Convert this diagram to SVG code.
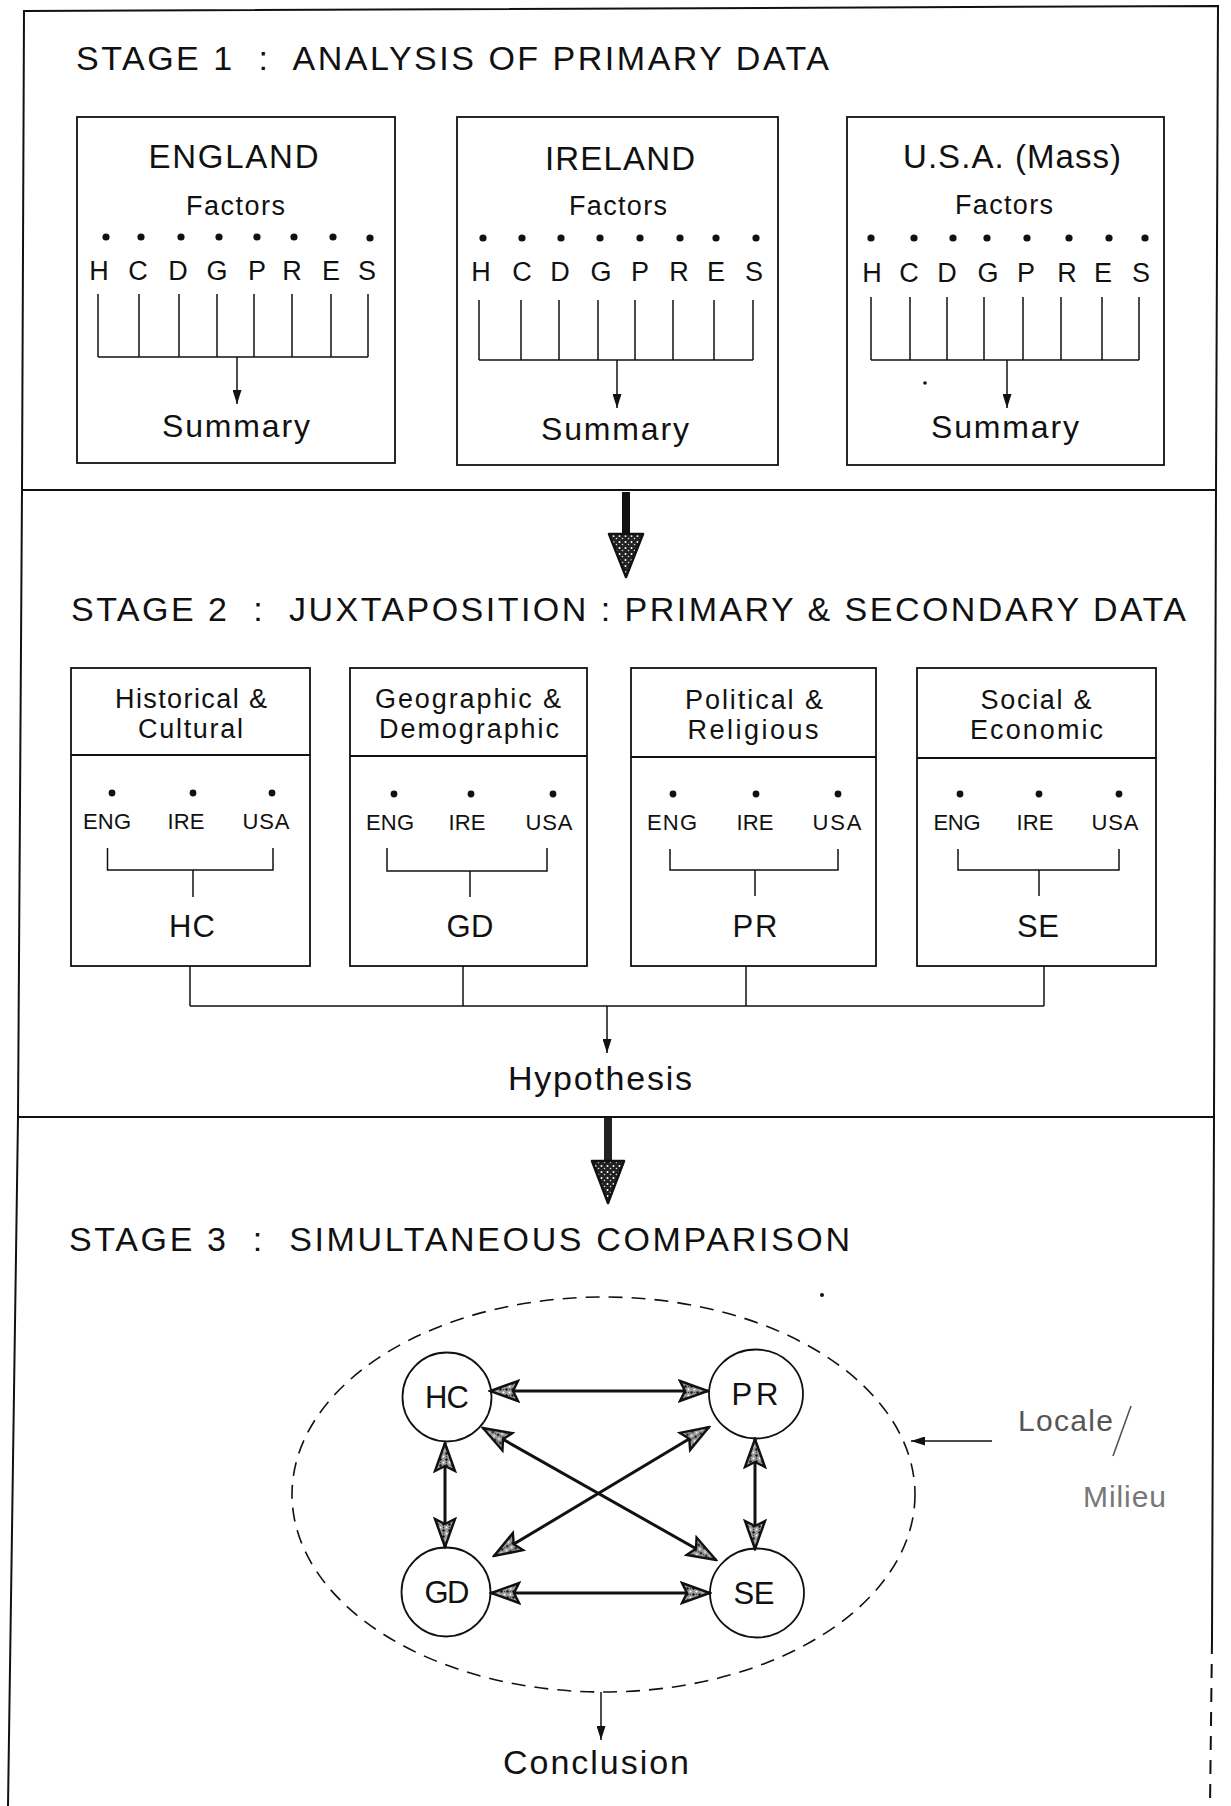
<svg xmlns="http://www.w3.org/2000/svg" width="1231" height="1806" viewBox="0 0 1231 1806">
<style>
text{font-family:"Liberation Sans",Arial,Helvetica,sans-serif;fill:#111;}
.ttl{font-size:34px;}
.cty{font-size:33px;text-anchor:middle;}
.fac{font-size:27px;text-anchor:middle;}
.let{font-size:27px;text-anchor:middle;}
.sum{font-size:32px;text-anchor:middle;}
.hdr{font-size:27px;text-anchor:middle;}
.sm{font-size:22px;text-anchor:middle;}
.code{font-size:31px;text-anchor:middle;}
.big{font-size:34px;text-anchor:middle;}
.node{font-size:31px;text-anchor:middle;}
.frame{fill:none;stroke:#111;stroke-width:2;}
.box{fill:none;stroke:#111;stroke-width:1.8;}
.ln{fill:none;stroke:#111;stroke-width:1.5;}
.thick{fill:none;stroke:#111;stroke-width:3;}
.dot{fill:#111;}
</style>
<defs>
<pattern id="stipL" width="6" height="6" patternUnits="userSpaceOnUse">
<rect width="6" height="6" fill="#9a9a9a"/>
<circle cx="1.5" cy="1.5" r="1.2" fill="#111"/>
<circle cx="4.5" cy="4.5" r="1" fill="#fff"/>
<circle cx="4.5" cy="1.5" r="0.7" fill="#333"/>
</pattern>
<pattern id="stipD" width="6" height="6" patternUnits="userSpaceOnUse">
<rect width="6" height="6" fill="#222"/>
<circle cx="1.5" cy="2" r="1" fill="#fff"/>
<circle cx="4.5" cy="4.5" r="0.8" fill="#ddd"/>
</pattern>
<marker id="ah" viewBox="0 0 32 24" refX="30" refY="12" markerWidth="32" markerHeight="24" markerUnits="userSpaceOnUse" orient="auto-start-reverse">
<path d="M2,2 L30,12 L2,22 L7,12 Z" fill="url(#stipL)" stroke="#111" stroke-width="2.4"/>
</marker>
<marker id="sa" viewBox="0 0 14 10" refX="14" refY="5" markerWidth="14" markerHeight="9" markerUnits="userSpaceOnUse" orient="auto" preserveAspectRatio="none">
<path d="M0,0 L14,5 L0,10 Z" fill="#111"/>
</marker>
</defs>
<rect width="1231" height="1806" fill="#fff"/>

<g id="frame">
<polyline class="frame" points="8,1806 18,1117 22,490 24,11 1218,6 1216,490 1214,1117 1212,1640"/>
<line class="frame" x1="1212" y1="1640" x2="1210" y2="1806" stroke-dasharray="14 10"/>
<line class="frame" x1="22" y1="490" x2="1216" y2="490"/>
<line class="frame" x1="18" y1="1117" x2="1214" y2="1117"/>
</g>

<g id="titles">
<text class="ttl" x="76" y="70" textLength="753" xml:space="preserve">STAGE 1  :  ANALYSIS OF PRIMARY DATA</text>
<text class="ttl" x="71" y="621" textLength="1115" xml:space="preserve">STAGE 2  :  JUXTAPOSITION : PRIMARY &amp; SECONDARY DATA</text>
<text class="ttl" x="69" y="1251" textLength="781" xml:space="preserve">STAGE 3  :  SIMULTANEOUS COMPARISON</text>
</g>

<!-- Stage 1 -->
<g id="england">
<rect class="box" x="77" y="117" width="318" height="346"/>
<text class="cty" x="233.5" y="168" textLength="170">ENGLAND</text>
<text class="fac" x="235.5" y="215" textLength="99">Factors</text>
<g class="dot"><circle cx="106" cy="237" r="3.6"/><circle cx="141" cy="237" r="3.6"/><circle cx="181" cy="237" r="3.6"/><circle cx="219" cy="237" r="3.6"/><circle cx="257" cy="237" r="3.6"/><circle cx="294" cy="237" r="3.6"/><circle cx="333" cy="237" r="3.6"/><circle cx="370" cy="238" r="3.6"/></g>
<text class="let" x="99" y="280">H</text><text class="let" x="138" y="280">C</text><text class="let" x="178" y="280">D</text><text class="let" x="217" y="280">G</text><text class="let" x="257" y="280">P</text><text class="let" x="292" y="280">R</text><text class="let" x="331" y="280">E</text><text class="let" x="367" y="280">S</text>
<path class="ln" d="M98,294V357M139,294V357M179,294V357M217,294V357M254,294V357M292,294V357M331,294V357M368,294V357M98,357H368"/>
<line class="ln" x1="237" y1="357" x2="237" y2="404" marker-end="url(#sa)"/>
<text class="sum" x="236" y="437" textLength="148">Summary</text>
</g>

<g id="ireland">
<rect class="box" x="457" y="117" width="321" height="348"/>
<text class="cty" x="620" y="170" textLength="150">IRELAND</text>
<text class="fac" x="618" y="215" textLength="98">Factors</text>
<g class="dot"><circle cx="483" cy="238" r="3.6"/><circle cx="522" cy="238" r="3.6"/><circle cx="561" cy="238" r="3.6"/><circle cx="600" cy="238" r="3.6"/><circle cx="640" cy="238" r="3.6"/><circle cx="680" cy="238" r="3.6"/><circle cx="716" cy="238" r="3.6"/><circle cx="756" cy="238" r="3.6"/></g>
<text class="let" x="481" y="281">H</text><text class="let" x="522" y="281">C</text><text class="let" x="560" y="281">D</text><text class="let" x="601" y="281">G</text><text class="let" x="640" y="281">P</text><text class="let" x="679" y="281">R</text><text class="let" x="716" y="281">E</text><text class="let" x="754" y="281">S</text>
<path class="ln" d="M479,300V360M521,300V360M559,300V360M598,300V360M635,300V360M673,300V360M714,300V360M753,300V360M479,360H753"/>
<line class="ln" x1="617" y1="360" x2="617" y2="408" marker-end="url(#sa)"/>
<text class="sum" x="615" y="440" textLength="148">Summary</text>
</g>

<g id="usa">
<rect class="box" x="847" y="117" width="317" height="348"/>
<text class="cty" x="1012" y="168" textLength="218">U.S.A. (Mass)</text>
<text class="fac" x="1004" y="214" textLength="98">Factors</text>
<g class="dot"><circle cx="871" cy="238" r="3.6"/><circle cx="914" cy="238" r="3.6"/><circle cx="953" cy="238" r="3.6"/><circle cx="987" cy="238" r="3.6"/><circle cx="1027" cy="238" r="3.6"/><circle cx="1069" cy="238" r="3.6"/><circle cx="1109" cy="238" r="3.6"/><circle cx="1145" cy="238" r="3.6"/></g>
<text class="let" x="872" y="282">H</text><text class="let" x="909" y="282">C</text><text class="let" x="947" y="282">D</text><text class="let" x="988" y="282">G</text><text class="let" x="1026" y="282">P</text><text class="let" x="1067" y="282">R</text><text class="let" x="1103" y="282">E</text><text class="let" x="1141" y="282">S</text>
<path class="ln" d="M871,297V360M910,297V360M947,297V360M984,297V360M1023,297V360M1061,297V360M1102,297V360M1139,297V360M871,360H1139"/>
<line class="ln" x1="1007" y1="360" x2="1007" y2="408" marker-end="url(#sa)"/>
<text class="sum" x="1005" y="438" textLength="148">Summary</text>
<circle class="dot" cx="925" cy="383" r="1.8"/>
</g>

<!-- Stage 2 -->
<g id="hc-box">
<rect class="box" x="71" y="668" width="239" height="298"/>
<line class="box" x1="71" y1="755" x2="310" y2="755"/>
<text class="hdr" x="191" y="708" textLength="152">Historical &amp;</text>
<text class="hdr" x="190.5" y="738" textLength="105">Cultural</text>
<g class="dot"><circle cx="112" cy="793" r="3.4"/><circle cx="193" cy="793" r="3.4"/><circle cx="272" cy="793" r="3.4"/></g>
<text class="sm" x="107" y="829" textLength="48">ENG</text><text class="sm" x="186" y="829" textLength="37">IRE</text><text class="sm" x="266" y="829" textLength="47">USA</text>
<path class="ln" d="M107.5,848V870H273V848M193,870V897"/>
<text class="code" x="192" y="937" textLength="46">HC</text>
</g>

<g id="gd-box">
<rect class="box" x="350" y="668" width="237" height="298"/>
<line class="box" x1="350" y1="756" x2="587" y2="756"/>
<text class="hdr" x="468" y="708" textLength="186">Geographic &amp;</text>
<text class="hdr" x="469" y="738" textLength="180">Demographic</text>
<g class="dot"><circle cx="394" cy="794" r="3.4"/><circle cx="471" cy="794" r="3.4"/><circle cx="553" cy="794" r="3.4"/></g>
<text class="sm" x="390" y="830" textLength="48">ENG</text><text class="sm" x="467" y="830" textLength="37">IRE</text><text class="sm" x="549" y="830" textLength="47">USA</text>
<path class="ln" d="M387,848V871H547V848M470,871V897"/>
<text class="code" x="470" y="937" textLength="47">GD</text>
</g>

<g id="pr-box">
<rect class="box" x="631" y="668" width="245" height="298"/>
<line class="box" x1="631" y1="757" x2="876" y2="757"/>
<text class="hdr" x="754" y="709" textLength="138">Political &amp;</text>
<text class="hdr" x="753" y="739" textLength="131">Religious</text>
<g class="dot"><circle cx="673" cy="794" r="3.4"/><circle cx="756" cy="794" r="3.4"/><circle cx="838" cy="794" r="3.4"/></g>
<text class="sm" x="672" y="830" textLength="50">ENG</text><text class="sm" x="755" y="830" textLength="37">IRE</text><text class="sm" x="837" y="830" textLength="49">USA</text>
<path class="ln" d="M670,849V870H838V849M755,870V896"/>
<text class="code" x="755" y="937" textLength="45">PR</text>
</g>

<g id="se-box">
<rect class="box" x="917" y="668" width="239" height="298"/>
<line class="box" x1="917" y1="758" x2="1156" y2="758"/>
<text class="hdr" x="1036" y="709" textLength="111">Social &amp;</text>
<text class="hdr" x="1036.5" y="739" textLength="133">Economic</text>
<g class="dot"><circle cx="960" cy="794" r="3.4"/><circle cx="1039" cy="794" r="3.4"/><circle cx="1119" cy="794" r="3.4"/></g>
<text class="sm" x="957" y="830" textLength="47">ENG</text><text class="sm" x="1035" y="830" textLength="37">IRE</text><text class="sm" x="1115" y="830" textLength="47">USA</text>
<path class="ln" d="M958,849V870H1119V849M1039,870V896"/>
<text class="code" x="1038" y="937" textLength="42">SE</text>
</g>

<g id="hypothesis">
<text class="big" x="600" y="1090" textLength="184">Hypothesis</text>
</g>

<!-- Stage 3 -->
<g id="milieu-ellipse">
<ellipse cx="603.5" cy="1494.5" rx="311.5" ry="197.5" fill="none" stroke="#111" stroke-width="1.6" stroke-dasharray="14 9"/>
<circle class="dot" cx="822" cy="1295" r="2"/>
</g>
<g id="node-hc"><circle cx="447" cy="1397" r="44.5" fill="#fff" stroke="#111" stroke-width="1.8"/><text class="node" x="447" y="1408" textLength="44">HC</text></g>
<g id="node-pr"><ellipse cx="756" cy="1394" rx="47" ry="44.5" fill="#fff" stroke="#111" stroke-width="1.8"/><text class="node" x="755" y="1405" textLength="47">PR</text></g>
<g id="node-gd"><circle cx="446" cy="1592" r="44.5" fill="#fff" stroke="#111" stroke-width="1.8"/><text class="node" x="447" y="1603" textLength="45">GD</text></g>
<g id="node-se"><ellipse cx="757" cy="1593" rx="47" ry="44.5" fill="#fff" stroke="#111" stroke-width="1.8"/><text class="node" x="754" y="1604" textLength="41">SE</text></g>

<g id="locale">
<text x="1018" y="1431" style="font-size:30px;fill:#555" textLength="95">Locale</text>
<line x1="1131" y1="1406" x2="1113" y2="1456" stroke="#555" stroke-width="1.6"/>
<text x="1083" y="1507" style="font-size:30px;fill:#777" textLength="83">Milieu</text>
</g>

<g id="conclusion">
<text class="big" x="596" y="1774" textLength="186">Conclusion</text>
</g>

<g id="connectors">
<g id="stage-arrow-1">
<rect x="622" y="492" width="8" height="42" fill="#111"/>
<path d="M609,534 L643,534 L626,577 Z" fill="url(#stipD)" stroke="#111" stroke-width="2.5" stroke-linejoin="round"/>
</g>
<g id="stage-arrow-2">
<rect x="604" y="1118" width="8" height="43" fill="#222"/>
<path d="M592,1161 L624,1161 L608,1203 Z" fill="url(#stipD)" stroke="#111" stroke-width="2.5" stroke-linejoin="round"/>
</g>
<path class="ln" d="M190,966V1006M463,966V1006M746,966V1006M1044,966V1006M190,1006H1044"/>
<line class="ln" x1="607" y1="1006" x2="607" y2="1053" marker-end="url(#sa)"/>
<line class="thick" x1="490" y1="1391" x2="708" y2="1391" marker-start="url(#ah)" marker-end="url(#ah)"/>
<line class="thick" x1="491" y1="1593" x2="710" y2="1593" marker-start="url(#ah)" marker-end="url(#ah)"/>
<line class="thick" x1="445" y1="1443" x2="445" y2="1547" marker-start="url(#ah)" marker-end="url(#ah)"/>
<line class="thick" x1="755" y1="1439" x2="755" y2="1549" marker-start="url(#ah)" marker-end="url(#ah)"/>
<line class="thick" x1="483" y1="1428" x2="716" y2="1560" marker-start="url(#ah)" marker-end="url(#ah)"/>
<line class="thick" x1="494" y1="1556" x2="709" y2="1427" marker-start="url(#ah)" marker-end="url(#ah)"/>
<line class="ln" x1="992" y1="1441" x2="911" y2="1441" marker-end="url(#sa)"/>
<line class="ln" x1="601" y1="1692" x2="601" y2="1740" marker-end="url(#sa)"/>
</g>
</svg>
